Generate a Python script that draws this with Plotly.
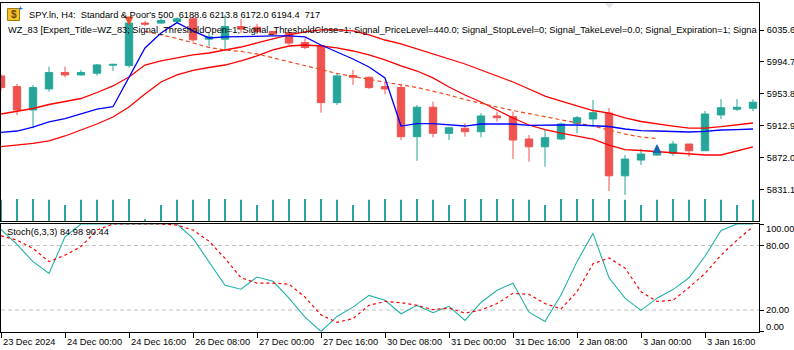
import plotly.graph_objects as go

# ---------------- data ----------------
bar_index = list(range(48))

open_ = [5976.8, 5963.1, 5933.1, 5960.1, 5981.1, 5978.1, 5980.3, 5990.6, 5990.1, 6044.6,
         6044.6, 6046.6, 6050.1, 6024.0, 6024.0, 6040.2, 6039.3, 6033.8, 6032.5, 6019.6,
         6015.4, 5942.5, 5977.2, 5975.1, 5963.1, 5962.0, 5898.8, 5936.6, 5903.1, 5909.6,
         5905.2, 5925.4, 5924.5, 5895.8, 5885.9, 5895.8, 5916.0, 5921.5, 5929.2, 5848.6,
         5868.8, 5875.2, 5877.4, 5889.4, 5880.8, 5926.7, 5934.0, 5935.3]
high = [5979.0, 5966.5, 5965.2, 5988.8, 5988.8, 5984.5, 5992.2, 5992.2, 6046.3, 6047.5,
        6051.0, 6052.1, 6052.7, 6032.1, 6055.3, 6049.5, 6043.7, 6034.7, 6034.1, 6025.3,
        6016.7, 5980.3, 5984.5, 5975.9, 5969.5, 5966.5, 5939.5, 5943.8, 5911.6, 5916.0,
        5928.8, 5930.9, 5930.9, 5900.9, 5907.4, 5916.8, 5925.4, 5945.9, 5935.7, 5875.2,
        5882.9, 5884.9, 5893.2, 5889.4, 5931.8, 5947.2, 5947.2, 5946.8]
low = [5958.0, 5926.7, 5909.6, 5956.6, 5975.1, 5977.2, 5977.2, 5983.2, 5987.5, 6040.7,
       6044.0, 6046.2, 6020.5, 6014.5, 6011.2, 6031.7, 6030.4, 6029.5, 6016.7, 6011.2,
       5929.6, 5939.5, 5965.2, 5960.1, 5953.3, 5894.5, 5867.9, 5898.0, 5894.5, 5898.8,
       5898.0, 5918.0, 5870.1, 5866.6, 5860.2, 5894.5, 5903.1, 5912.5, 5828.9, 5823.8,
       5862.4, 5874.6, 5874.3, 5873.0, 5880.8, 5921.5, 5931.8, 5931.8]
close = [5961.8, 5933.1, 5961.8, 5981.1, 5978.1, 5981.1, 5990.9, 5991.6, 6044.6, 6043.3,
         6047.9, 6050.1, 6023.1, 6027.0, 6040.2, 6036.9, 6033.8, 6030.4, 6018.9, 6013.2,
         5942.5, 5976.8, 5975.1, 5961.8, 5960.1, 5898.8, 5936.6, 5903.1, 5910.3, 5905.2,
         5925.4, 5923.2, 5894.5, 5885.9, 5897.5, 5915.1, 5923.2, 5929.6, 5848.6, 5870.1,
         5876.5, 5878.2, 5889.4, 5880.8, 5927.9, 5936.0, 5936.6, 5943.0]
volume = [690, 717, 717, 690, 520, 690, 690, 690, 717, 40,
          520, 690, 690, 717, 717, 690, 520, 690, 717, 717,
          717, 690, 520, 690, 717, 690, 717, 690, 520, 717,
          717, 717, 717, 690, 520, 717, 717, 717, 717, 690,
          520, 690, 717, 690, 717, 690, 520, 690]

band_upper = [5927.9, 5931.8, 5935.0, 5940.1, 5944.0, 5947.8, 5955.5, 5963.9, 5975.4, 5990.8,
              5996.0, 5999.8, 6003.7, 6006.2, 6010.1, 6013.9, 6019.1, 6024.2, 6029.4, 6033.2,
              6035.8, 6035.8, 6034.5, 6029.4, 6022.9, 6017.8, 6011.4, 6004.9, 5998.5, 5992.1,
              5984.4, 5976.7, 5969.0, 5960.0, 5951.0, 5944.6, 5938.2, 5932.4, 5929.2, 5922.8,
              5918.3, 5915.1, 5912.5, 5909.9, 5909.9, 5911.6, 5913.8, 5916.4]
band_lower = [5886.0, 5888.1, 5890.3, 5893.3, 5899.7, 5907.4, 5915.1, 5924.1, 5936.9, 5953.6,
              5969.0, 5978.0, 5983.8, 5987.6, 5990.8, 5996.0, 6002.4, 6010.1, 6015.2, 6016.5,
              6015.2, 6012.7, 6008.8, 6003.7, 5997.3, 5989.6, 5983.1, 5974.2, 5962.6, 5952.3,
              5943.3, 5933.1, 5922.8, 5913.8, 5908.0, 5903.5, 5899.7, 5895.8, 5888.1, 5882.3,
              5881.1, 5879.8, 5878.5, 5876.6, 5875.3, 5875.3, 5880.4, 5885.6]
fast_line = [5904.4, 5906.1, 5911.2, 5917.7, 5922.1, 5927.9, 5934.3, 5937.3, 5975.4, 6012.7,
             6031.9, 6045.2, 6034.5, 6025.5, 6026.8, 6027.4, 6028.1, 6028.1, 6028.1, 6026.8,
             6016.5, 6007.5, 5998.5, 5988.3, 5974.2, 5912.5, 5915.7, 5915.7, 5913.8, 5912.5,
             5915.1, 5915.1, 5915.1, 5913.2, 5913.8, 5913.8, 5913.8, 5913.2, 5911.9, 5908.7,
             5906.7, 5906.1, 5905.5, 5904.8, 5905.5, 5907.4, 5908.0, 5908.7]
slow_line = [None, None, None, None, None, None, None, None, None, 6033.9,
             6029.4, 6024.9, 6019.1, 6013.3, 6010.1, 6008.2, 6005.0, 5999.8, 5994.7, 5989.6,
             5984.4, 5980.0, 5976.1, 5972.2, 5969.0, 5965.2, 5962.0, 5957.5, 5952.3, 5946.5,
             5941.4, 5936.9, 5932.4, 5928.6, 5924.7, 5920.9, 5917.0, 5912.5, 5907.4, 5902.2,
             5898.4, 5896.5, None, None, None, None, None, None]

sell_index = [8]
sell_price = [6041.6]
buy_index = [41]
buy_price = [5889.4]

stoch_k = [95, 81, 65, 54, 88, 100, 100, 100, 100, 100,
           100, 100, 86.6, 65, 43, 39.3, 50.7, 46.7, 31, 13.4,
           0, 14, 22.7, 33.6, 29, 16.5, 24.3, 17.5, 23.4, 10.3,
           27, 38.3, 45, 18, 9.3, 34, 65, 91.3, 50, 31,
           19.6, 31, 39, 50, 70, 94, 100, 100]
stoch_d = [89, 85, 77.3, 65, 71, 79, 94.4, 100, 100, 100,
           100, 99, 94.4, 84, 68, 50, 45, 45, 44, 32,
           15.5, 8.5, 12, 24.3, 28, 26.8, 24.3, 20.3, 21.8, 17.1,
           20, 26, 35.5, 34.6, 26, 21, 37, 63, 68.5, 59,
           37, 28, 29, 41, 54, 71, 85, 97.5]

x_tick_index = [0, 4, 8, 12, 16, 20, 24, 28, 32, 36, 40, 44]
x_tick_labels = ["23 Dec 2024", "24 Dec 00:00", "24 Dec 16:00", "26 Dec 08:00",
                 "27 Dec 00:00", "27 Dec 16:00", "30 Dec 08:00", "31 Dec 00:00",
                 "31 Dec 16:00", "2 Jan 08:00", "3 Jan 00:00", "3 Jan 16:00"]
price_ticks = [6035.6, 5994.7, 5953.8, 5912.9, 5872.0, 5831.1]
price_tick_labels = ["6035.6", "5994.7", "5953.8", "5912.9", "5872.0", "5831.1"]
stoch_ticks = [100, 80, 20, 0]
stoch_tick_labels = ["100.00", "80.00", "20.00", "0.00"]
stoch_label_pos = [95.5, 80, 20, 4.5]

header_line1 = "SPY.ln, H4:  Standard & Poor's 500  6188.6 6213.8 6172.0 6194.4  717"
header_line2 = ("WZ_83 [Expert_Title=WZ_83; Signal_ThresholdOpen=1; Signal_ThresholdClose=1; "
                "Signal_PriceLevel=440.0; Signal_StopLevel=0; Signal_TakeLevel=0.0; "
                "Signal_Expiration=1; Signa")
stoch_title = "Stoch(6,3,3) 84.98 90.44"

# ---------------- styling ----------------
W, H = 794, 350
TEAL = "#26a69a"
RED = "#ef5350"
FONT = "Liberation Sans"
FS = 9.25

def px_x(p):
    return p / W

def px_y(p):
    return 1 - p / H

x_dom = [px_x(1), px_x(759)]
main_dom = [px_y(221), px_y(3.3)]
stoch_dom = [px_y(331.5), px_y(224)]

fig = go.Figure()

fig.add_trace(go.Bar(x=bar_index, y=volume, width=0.09, marker=dict(color=TEAL, line=dict(width=0)),
                     xaxis="x", yaxis="y3", hoverinfo="skip"))

fig.add_trace(go.Scatter(x=bar_index, y=band_upper, mode="lines", line=dict(color="#ff0000", width=1.3),
                         xaxis="x", yaxis="y"))
fig.add_trace(go.Scatter(x=bar_index, y=band_lower, mode="lines", line=dict(color="#ff0000", width=1.3),
                         xaxis="x", yaxis="y"))
fig.add_trace(go.Scatter(x=bar_index, y=slow_line, mode="lines",
                         line=dict(color="#f04a1c", width=1.2, dash="4px,3px"), xaxis="x", yaxis="y"))
fig.add_trace(go.Scatter(x=bar_index, y=fast_line, mode="lines", line=dict(color="#0000ff", width=1.3),
                         xaxis="x", yaxis="y"))

fig.add_trace(go.Candlestick(
    x=bar_index, open=open_, high=high, low=low, close=close,
    increasing=dict(line=dict(color=TEAL, width=1), fillcolor=TEAL),
    decreasing=dict(line=dict(color=RED, width=1), fillcolor=RED),
    whiskerwidth=0, xaxis="x", yaxis="y"))

fig.add_trace(go.Scatter(x=sell_index, y=sell_price, mode="markers",
                         marker=dict(symbol="arrow-down", size=9, color="#e8542c"), xaxis="x", yaxis="y"))
fig.add_trace(go.Scatter(x=buy_index, y=buy_price, mode="markers",
                         marker=dict(symbol="arrow-up", size=9, color="#1464b4"), xaxis="x", yaxis="y"))

fig.add_trace(go.Scatter(x=bar_index, y=stoch_k, mode="lines", line=dict(color="#20b2aa", width=1.1),
                         xaxis="x2", yaxis="y2"))
fig.add_trace(go.Scatter(x=bar_index, y=stoch_d, mode="lines", line=dict(color="#ff0000", width=1.2, dash="dot"),
                         xaxis="x2", yaxis="y2"))

xr = [0, 47.375]
axis_common = dict(showgrid=False, zeroline=False, showline=True, mirror=True, linecolor="black", linewidth=1)

fig.update_layout(
    width=W, height=H, autosize=False,
    margin=dict(l=0, r=0, t=0, b=0),
    paper_bgcolor="white", plot_bgcolor="white",
    showlegend=False, hovermode=False, boxgap=0.34,
    font=dict(family=FONT, size=FS, color="black"),
    xaxis=dict(domain=x_dom, range=xr, anchor="y", showticklabels=False, ticks="",
               rangeslider=dict(visible=False), **axis_common),
    yaxis=dict(domain=main_dom, range=[5790.6, 6070.0], side="right", anchor="x",
               tickvals=price_ticks, ticktext=price_tick_labels, ticks="outside", ticklen=4,
               tickcolor="black", tickfont=dict(family=FONT, size=FS, color="black"),
               ticklabelstandoff=1, **axis_common),
    yaxis3=dict(overlaying="y", range=[0, 7100], visible=False, anchor="x"),
    xaxis2=dict(domain=x_dom, range=xr, anchor="y2", matches="x", showticklabels=False,
                tickvals=x_tick_index, ticks="outside", ticklen=5, tickcolor="black",
                **axis_common),
    yaxis2=dict(domain=stoch_dom, range=[0, 100], side="right", anchor="x2",
                tickvals=stoch_ticks, showticklabels=False, ticks="outside", ticklen=4,
                tickcolor="black", **axis_common),
)

shapes = []
for lv in [80, 20]:
    shapes.append(dict(type="line", xref="x2 domain", yref="y2", x0=0, x1=1, y0=lv, y1=lv,
                       line=dict(color="#c0c0c0", width=1, dash="4px,3px"), layer="below"))
# MT5 chart-shift marker and symbol icon
shapes.append(dict(type="path", xref="paper", yref="paper",
                   path=f"M {px_x(605)},{px_y(3.3)} L {px_x(614)},{px_y(3.3)} L {px_x(609.5)},{px_y(8.5)} Z",
                   fillcolor="#e4dfea", line=dict(width=0)))
shapes.append(dict(type="rect", xref="paper", yref="paper",
                   x0=px_x(7.5), x1=px_x(19.5), y0=px_y(20.5), y1=px_y(8.5),
                   fillcolor="#f2c12e", line=dict(color="#a57c00", width=1)))
fig.update_layout(shapes=shapes)

ann = []
ann.append(dict(xref="paper", yref="paper", x=px_x(13.5), y=px_y(14.8), text="<b>$</b>",
                showarrow=False, xanchor="center", yanchor="middle",
                font=dict(family=FONT, size=10, color="#6b4a00")))
ann.append(dict(xref="paper", yref="paper", x=px_x(20.5), y=px_y(8), text="<b>+</b>",
                showarrow=False, xanchor="center", yanchor="middle",
                font=dict(family=FONT, size=8, color="#1e6fd0")))
ann.append(dict(xref="paper", yref="paper", x=px_x(26.5), y=px_y(14.7), text=header_line1,
                showarrow=False, xanchor="left", yanchor="middle", font=dict(family=FONT, size=FS, color="black")))
ann.append(dict(xref="paper", yref="paper", x=px_x(5.5), y=px_y(29.7), text=header_line2,
                showarrow=False, xanchor="left", yanchor="middle", font=dict(family=FONT, size=FS, color="black")))
ann.append(dict(xref="paper", yref="paper", x=px_x(4.5), y=px_y(232.3), text=stoch_title,
                showarrow=False, xanchor="left", yanchor="middle", font=dict(family=FONT, size=FS, color="black")))
for lab, pos in zip(stoch_tick_labels, stoch_label_pos):
    ann.append(dict(xref="paper", yref="y2", x=px_x(764), y=pos, text=lab, showarrow=False,
                    xanchor="left", yanchor="middle", font=dict(family=FONT, size=FS, color="black")))
for idx, lab in zip(x_tick_index, x_tick_labels):
    ann.append(dict(xref="x2", yref="paper", x=idx, y=px_y(342), text=lab, showarrow=False,
                    xanchor="left", yanchor="middle", xshift=0,
                    font=dict(family=FONT, size=FS, color="black")))
fig.update_layout(annotations=ann)

fig.write_html("out.html")
